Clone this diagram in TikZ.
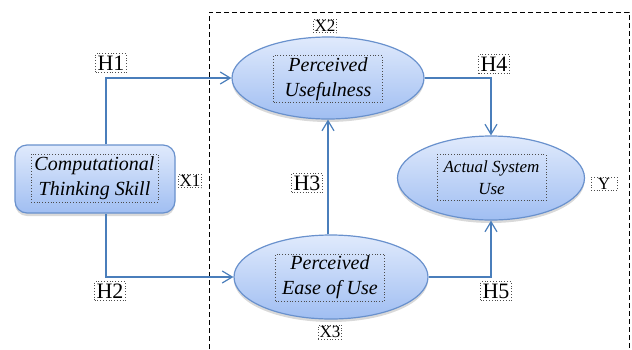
\documentclass[tikz,border=0pt]{standalone}
\usepackage{fontspec}
\setmainfont{Liberation Serif}
\usetikzlibrary{shapes.geometric,arrows.meta,shadows,calc}
\definecolor{linkblue}{RGB}{74,126,187}
\definecolor{edgeblue}{RGB}{105,145,205}
\definecolor{topblue}{RGB}{224,234,252}
\definecolor{botblue}{RGB}{160,190,242}
\tikzset{
  bluefill/.style={draw=edgeblue,line width=0.6pt,top color=topblue,bottom color=botblue,
    drop shadow={opacity=0.3,shadow xshift=0pt,shadow yshift=-1.5pt}},
  construct/.style={bluefill,ellipse,minimum width=96pt,minimum height=41pt},
  txtbox/.style={draw=black!70,densely dotted,line width=0.4pt,align=center,inner sep=1pt,
    font=\fontsize{10}{12.5}\selectfont\itshape,minimum width=54.5pt,minimum height=23pt},
  hlabel/.style={draw=black!70,densely dotted,line width=0.4pt,inner sep=1pt,font=\fontsize{11}{12}\selectfont},
  varlabel/.style={draw=black!70,densely dotted,line width=0.4pt,inner sep=0.6pt,font=\fontsize{8.5}{9}\selectfont},
  hypo/.style={draw=linkblue,line width=0.6pt,-{Straight Barb[length=5pt,width=6pt]}}
}
\begin{document}
\begin{tikzpicture}[x=0.5pt,y=-0.5pt]
\useasboundingbox (0,0) rectangle (632,349);
\draw[dash pattern=on 2.5pt off 1.5pt,line width=0.5pt] (209,365)--(209,12)--(629,12)--(629,365);

\node[bluefill,rectangle,rounded corners=6pt,minimum width=80pt,minimum height=34pt] (cts) at (95,179) {};
\node[txtbox,minimum width=63.5pt,minimum height=24pt] (cts-txt) at (94.5,178) {Computational\\Thinking Skill};
\node[construct] (pu) at (328,78) {};
\node[txtbox] (pu-txt) at (328,79) {Perceived\\Usefulness};
\node[construct,minimum width=97pt,minimum height=42pt] (peou) at (331,277) {};
\node[txtbox] (peou-txt) at (330,277.5) {Perceived\\Ease of Use};
\node[construct,minimum width=93.5pt,minimum height=42pt] (asu) at (491,178) {};
\node[txtbox,font=\fontsize{8.5}{11}\selectfont\itshape] (asu-txt) at (491.5,177.5) {Actual System\\Use};

\draw[hypo] ($(cts.north)+(11,0)$) |- (pu);
\draw[hypo] ($(cts.south)+(11,0)$) |- (peou);
\draw[hypo] (pu.south |- peou.north) -- (pu.south);
\draw[hypo] (pu) -| (asu);
\draw[hypo] (peou) -| (asu);

\foreach \n/\x/\y/\t in {h1/111/63/H1,h2/110/291/H2,h3/307/183/H3,h4/494/64/H4,h5/496/291/H5}
  \node[hlabel] (\n) at (\x,\y) {\t};
\foreach \n/\x/\y/\t in {x1/190/181/X1,x2/325/26/X2,x3/330/332/X3}
  \node[varlabel] (\n) at (\x,\y) {\t};
\node[varlabel,minimum width=13pt] (yv) at (604,184) {Y};
\end{tikzpicture}
\end{document}
